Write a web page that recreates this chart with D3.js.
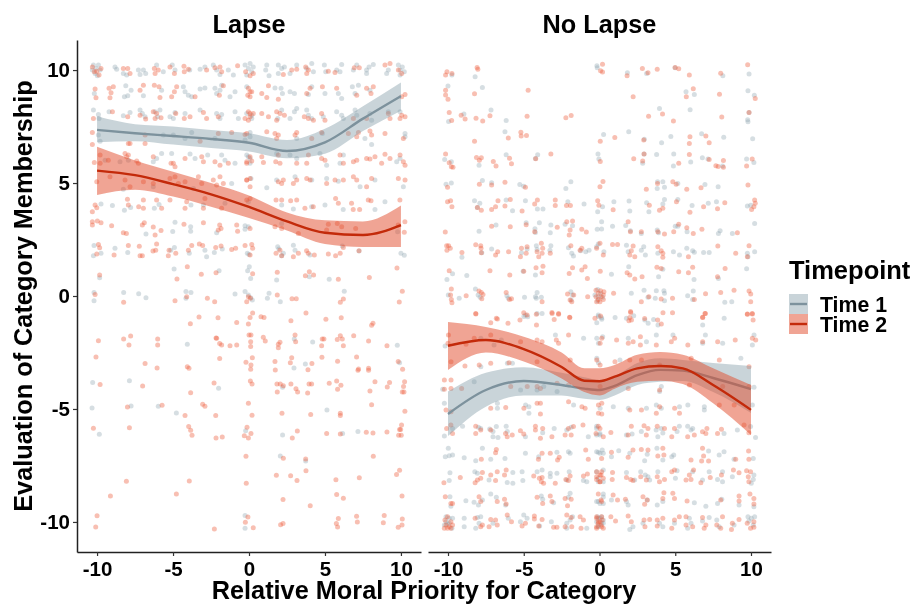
<!DOCTYPE html>
<html>
<head>
<meta charset="utf-8">
<script src="https://cdn.jsdelivr.net/npm/d3@7"></script>
<style>
  html, body { margin: 0; padding: 0; background: #fff; }
  svg { display: block; font-family: "Liberation Sans", Arial, sans-serif; font-weight: bold; filter: blur(0.3px); }
  .pts { filter: blur(0.45px); }
</style>
</head>
<body>
<div id="plot"></div>
<script>
const panels = ['Lapse', 'No Lapse'];
const seriesNames = ['Time 1', 'Time 2'];
const xTicks = [-10, -5, 0, 5, 10];
const yTicks = [-10, -5, 0, 5, 10];

// smooth lines
const lapseX = [-10, -7.5, -5, -2.5, 0, 2.5, 5, 7.5, 10];
const lapseT1 = [7.35, 7.2, 7.08, 6.95, 6.78, 6.42, 6.8, 7.85, 8.85];
const lapseT1Hi = [7.95, 7.6, 7.5, 7.35, 7.2, 6.9, 7.4, 8.4, 9.45];
const lapseT1Lo = [6.8, 6.85, 6.7, 6.55, 6.4, 6.1, 6.3, 7.3, 8.2];
const lapseT2 = [5.55, 5.35, 4.95, 4.5, 3.94, 3.3, 2.8, 2.7, 3.14];
const lapseT2Hi = [6.6, 6.0, 5.5, 5.0, 4.45, 3.7, 3.35, 3.3, 4.0];
const lapseT2Lo = [4.47, 4.7, 4.4, 3.95, 3.45, 2.9, 2.3, 2.17, 2.17];

const noLapseX = [-10, -7.5, -5, -2.5, -1, 0, 1, 2.5, 4, 5.5, 7.5, 10];
const noLapseT1 = [-5.22, -4.16, -3.76, -3.94, -4.1, -4.16, -3.98, -3.5, -3.27, -3.3, -3.63, -4.12];
const noLapseT1Hi = [-4.23, -3.4, -3.15, -3.4, -3.6, -3.72, -3.55, -2.97, -2.76, -2.83, -2.97, -3.1];
const noLapseT1Lo = [-6.2, -4.9, -4.4, -4.4, -4.55, -4.6, -4.4, -3.94, -3.8, -3.76, -4.25, -5.18];
const noLapseT2 = [-2.2, -1.95, -2.35, -3.14, -3.75, -3.77, -3.57, -3.2, -3.1, -3.2, -3.94, -5.04];
const noLapseT2Hi = [-1.15, -1.37, -1.8, -2.5, -3.2, -3.2, -3.05, -2.6, -2.48, -2.6, -3.2, -3.94];
const noLapseT2Lo = [-3.27, -2.5, -2.9, -3.65, -4.25, -4.4, -4.1, -3.8, -3.75, -3.9, -4.75, -6.15];

// jittered responses
const lapsePointsT1 = [
[-10.24,10.22],[-10.07,10.07],[-9.91,10.22],[-10.13,9.85],[-9.8,10],[-10.31,10],[-9.98,9.75],[-8.82,10.14],[-8.71,10.04],[-8.27,9.85],[-8.05,9.78],[-7.28,10],[-6.95,10],[-7.17,9.8],[-6.8,9.85],[-6.08,10.22],[-5.64,9.92],[-5.05,10.22],[-4.87,10],[-3.9,10],[-3.22,10.04],[-2.9,10.14],[-2.35,10.22],[-2.13,10],[-1.91,9.8],[-1.36,10],[-1.03,9.78],[-.26,10.22],[-.04,10.07],[.18,9.92],[-.15,9.78],[.07,10.29],[.28,10.14],
[1.17,10.22],[1.1,10],[1.32,9.75],[1.93,10.22],[2.15,10.07],[1.93,9.85],[2.33,10.14],[2.7,9.85],[3.14,10.22],[4.13,10.29],[3.8,10.07],[4.24,9.92],[4.96,10.22],[5.05,9.92],[6.1,10.25],[5.77,10],[5.99,9.92],[6.87,10],[7.09,10.22],[7.74,10],[8.18,10.25],[7.9,10.14],[7.74,9.85],[9.17,10],[9.06,9.85],[9.83,10.22],[10.09,10.14],[9.94,10],[10.22,9.92],[9.94,9.78],
[-10.18,8.96],[-8.11,9.3],[-7.76,9.11],[-8.2,8.82],[-7.98,8.86],[-6.95,8.86],[-5.75,9.11],[-4.32,9.26],[-4.21,9.04],[-3.99,8.89],[-3.77,8.82],[-3.22,9.16],[-2.9,9.21],[-2.24,9.19],[-1.91,9.11],[-2.13,8.96],[-1.8,9.33],[-1.25,8.82],[-.92,9.04],[-.15,9.26],
[1.71,9.21],[2.11,9.19],[2.2,8.96],[2.7,9.04],[2.99,8.96],[4.13,9.26],[3.91,8.92],[5,8.96],[5.88,8.96],[6.1,8.74],[6.8,9.26],[7.2,9.33],[6.98,8.96],[7.96,9.11],
[-10.24,8.23],[-9.91,8.03],[-9.87,7.86],[-9.21,8.15],[-8.27,7.98],[-7.83,8.12],[-7.17,8.23],[-7.02,8.08],[-6.84,7.93],[-6.18,8.15],[-5.86,8.23],[-6.01,7.93],[-5.2,7.93],[-4.87,8.12],[-4.98,7.86],[-4.21,8.08],[-3.22,8.23],[-2.13,8.08],[-1.91,7.86],[-1.8,8.03],[-.92,8.15],[-.7,7.86],[-.15,8.08],[.18,7.86],
[.18,8],[1.89,7.86],[2.15,8.23],[2.7,7.86],[2.99,8.15],[3.14,8.3],[3.8,8.23],[3.91,8],[4.13,7.86],[4.89,7.93],[5.77,8.15],[6.1,8],[6.21,7.86],[6.98,8.23],[7.09,8],[7.96,8.08],[8.07,7.78],[9.17,8.15],[9.94,8.15],
[-9.8,6.85],[-9.91,7.12],[-5.64,7.12],[-4.98,7.12],[-3.77,7.24],[-4.21,6.97],[-2.24,6.97],[.07,7.05],[-.26,6.9],[.07,7.24],[3.14,6.97],[4.83,7.19],[7.63,6.97],[8.07,6.71],[10.27,7.19],[10.27,7.05],
[-9.47,6.01],[-8.49,5.94],[-7.94,6.01],[-6.3,5.94],[-6.08,6.09],[-5.75,6.31],[-5.09,6.31],[-3.88,6.28],[-3.55,6.09],[-2.72,6.24],[-1.8,6.24],[-1.58,6.01],[-.92,5.87],[-.15,6.24],[.07,6.09],[-.04,6.16],[.07,5.87],[1.82,6.31],[2.7,6.24],[3.14,6.09],[4.67,6.31],[5.11,5.79],[6.21,6.24],[5.99,5.87],[9.94,6.09],[9.72,5.94],
[-8.27,4.73],[-6.3,4.83],[-3.66,4.76],[-1.14,4.98],[.13,5.2],[1.82,5.13],[3.03,5.28],[4.13,5.13],[5.11,5.2],[5.88,5.08],[7.31,4.83],[8.29,5.13],[10.16,4.83],[1.17,4.79],
[-9.74,4.07],[-8.99,4],[-8.2,3.8],[-7.79,3.92],[-6.23,3.88],[-5.92,4.05],[-3.82,4.03],[-3,4.03],[-1.58,4.1],[-.04,4.17],[2.15,4.03],[2.92,3.85],[4.12,3.95],[5,4.03],[6.2,3.83],[8.29,3.83],[8.95,4.17],
[-4.87,3.26],[-6.78,2.74],[-5.02,2.85],[-3.84,3.07],[-3.84,2.87],[-2.13,2.8],[-.26,3.11],[-.04,3.07],[-.26,2.95],[2.15,3.21],[9.78,2.84],
[-10.2,2.23],[-8.82,2.11],[-9.74,1.89],[-10.24,1.78],[-7.98,1.92],[-4.91,2.15],[-5.15,2.03],[-3.93,1.89],[-2.9,2.03],[-2.79,1.74],[-2.28,1.92],[-1.76,2.08],[-.11,1.89],[0,1.84],[1.89,2.18],[1.97,2.08],[2.26,1.89],[2.15,1.78],[2.92,2.25],[3.03,2.03],[4.01,1.81],[6.14,2.21],[7.24,1.99],[10,1.89],[10.22,1.8],
[-9.83,.81],[-4.93,1.19],[-1.97,1.12],[.02,1.3],[-.09,1.12],[.11,.78],[1.82,.71],[5.28,.74],[3.97,.85],
[-10.2,.16],[-10.2,-.21],[-8.25,.16],[-7.26,.1],[-6.78,-.08],[-4.15,.2],[-3.82,.16],[-4.15,-.1],[-.92,.09],[-.26,.2],[-.04,.04],[.11,-.08],[.22,-.18],[1.32,.12],[1.21,-.1],[2.06,-.25],[6.27,.21],
[-4.06,-2.13],[2.98,-1.9],[4.19,-2.04],[9.76,-2.18],[2.96,-3.19],[3.71,-3.01],[9.91,-2.95],
[-10.29,-3.83],[-7.87,-3.75],[-2,-4.08],[2.21,-4.04],[-10.33,-4.96],[-7.76,-4.87],[-5.97,-4.88],[-4.78,-5.18],[5.13,-5.04],
[-9.85,-6.12],[-.22,-5.96],[2.21,-6.15],[6.16,-6.09],[7.17,-6],[2.06,-7.08],[3.73,-7.3],[-.26,-9.72],[-.26,-10.28]
];
const lapsePointsT2 = [
[-10.31,10.14],[-9.87,9.78],[-10.18,9.92],[-9.74,10.07],[-10.02,9.95],[-8.27,10.07],[-7.98,10.07],[-7.83,9.85],[-6.23,10.07],[-5.97,10],[-6.18,9.85],[-5.2,10.14],[-4.91,9.85],[-4.28,10.17],[-3.99,10.04],[-4.26,9.92],[-2.79,10],[-2.24,10.1],[-1.91,10.14],[-1.8,9.92],[-.75,10.19],[-.22,9.92],[.07,9.75],[.28,9.85],
[2.26,9.8],[2.81,10],[3.14,10.04],[3.73,10.14],[3.91,10],[3.8,9.85],[5.22,9.95],[5.66,9.89],[7.26,10.1],[6.93,10.1],[8.95,10.22],[9.28,10.29],[10.05,9.85],[9.83,10],
[-10.13,9.16],[-9.21,9.19],[-8.93,9.26],[-9.08,9],[-9.15,8.77],[-10.07,8.77],[-6.95,9.33],[-7.17,9.11],[-6.23,9.33],[-5.92,9.26],[-5.86,8.79],[-4.76,9.26],[-4.91,9.04],[-5.09,8.82],[-3.55,8.82],[-1.69,9.3],[-1.95,8.89],[-.04,9.19],[.07,8.82],[.18,9.04],
[.84,8.96],[1.17,8.79],[1.28,9.3],[1.93,8.71],[3.8,8.96],[4.02,9.19],[4.83,9.26],[5.77,9.19],[7.09,8.89],[7.74,9.19],[8.18,9.26],[8.03,8.96],[10.27,8.92],[10.05,8.82],[.07,9.04],[-.08,8.89],
[-10.24,7.86],[-8.99,8.15],[-7.98,7.93],[-7.17,8],[-6.8,7.83],[-6.3,8.15],[-6.08,8.08],[-6.18,7.86],[-5.79,7.89],[-4.82,8.08],[-4.26,7.86],[-3.88,7.93],[-3,8.12],[-2.79,7.86],[-2.02,7.93],[-.04,8.15],[.07,7.93],[-.26,7.86],[.28,8.08],
[-.04,7.78],[.07,8.08],[.84,8.08],[1.28,7.93],[1.82,8.15],[2.04,8.08],[2.33,8],[1.82,7.78],[3.64,7.93],[3.91,7.86],[4.24,7.78],[4.78,8.08],[5,7.78],[6.87,7.86],[7.74,7.86],[9.17,8.08],[9.28,7.86],[9.94,7.86],[10.27,7.93],[10.05,8],
[-10.31,7.24],[-10.31,6.71],[-7.83,6.75],[-7.94,6.75],[-6.84,7.12],[-6.84,6.75],[-3.22,6.85],[-2.02,7.19],[-1.14,7.24],[-.26,7.15],[-.15,7.19],[1.17,7.27],[1.71,7.19],[1.93,7.12],[1.82,6.97],[3.14,7.24],[3.03,7.12],[4.13,6.97],[4.78,7.24],[6.54,7.19],[7.2,7.24],[7.96,7.3],[8.07,7.12],[8.95,7.19],[10.16,6.97],[7.09,7.05],
[-10.18,5.91],[-9.8,6.24],[-9.8,5.87],[-8.05,6.16],[-7.94,6.24],[-8.16,6.31],[-7.39,5.97],[-7.28,5.87],[-6.3,6.16],[-5.13,5.87],[-4.98,5.87],[-4.87,5.72],[-4.21,6.09],[-3.11,6.16],[-3,5.94],[-1.91,5.79],[-2.24,5.94],[-1.36,5.87],[-.15,5.87],[.18,5.97],[-9.26,6.01],
[-.15,5.94],[.07,6.16],[.84,6.16],[.95,5.91],[1.76,5.94],[2.04,5.87],[1.93,6.24],[3.14,5.87],[3.91,6.24],[3.8,5.87],[4.78,6.09],[5,6.01],[5.99,6.24],[6.21,5.87],[6.87,5.94],[7.09,6.01],[7.74,6.09],[7.96,6.06],[8.29,6.16],[8.95,6.27],[8.73,5.87],[9.28,6.09],[9.94,6.24],[10.16,5.94],[10.27,5.79],
[-10.02,5.06],[-8.16,5.13],[-7.83,4.83],[-9.15,5.28],[-6.95,5.06],[-6.3,4.98],[-5.2,5.2],[-4.87,5.28],[-4.65,4.98],[-4.21,5.06],[-3.33,5.28],[-3.11,4.98],[-2.35,5.13],[-1.91,5.28],[-2.13,4.91],[-1.69,4.98],[-.15,5.13],[.07,4.83],
[-.15,5.13],[.07,5.2],[1.93,5.06],[2.15,4.98],[2.26,5.13],[2.92,4.98],[3.14,5.13],[3.8,5.2],[4.02,5.13],[5.11,4.98],[5.66,5.13],[6.21,5.13],[6.87,5.28],[7.09,5.13],[8.07,5.2],[7.74,4.83],[9.83,5.2],[10.27,5.13],
[-10.13,4.03],[-10.31,3.73],[-10.02,3.91],[-8,4.28],[-7.94,4.03],[-7.26,3.95],[-6.95,4.25],[-6.95,3.88],[-6.08,4.25],[-5.75,3.88],[-5.2,4.25],[-4.21,3.88],[-4.1,4.17],[-3,3.88],[-2.9,4.32],[-1.8,3.88],[-.15,4.25],[.07,4.32],[1.78,4.25],[2.15,4.25],[2.74,4.22],[3.14,4.25],[3.68,3.88],[4.23,3.95],[5.7,4.32],[5.88,4.1],[6.86,3.83],[6.75,4.1],[7.28,3.83],[7.85,4.25],[8.03,4.22],[9.93,4.25],
[-10.31,3.29],[-10.31,3.14],[-9.98,3.32],[-9.74,3.24],[-9.04,3.11],[-8.27,2.8],[-8.07,2.77],[-7.02,3.14],[-6.89,3.24],[-6.3,3.05],[-6.18,2.7],[-5.79,2.9],[-4.28,3.18],[-3,3.24],[-1.93,3.14],[-1.84,2.99],[-2.02,2.92],[-.81,3.14],[-.75,2.87],[.07,2.99],[1.71,3.07],[2.15,2.99],[3.25,2.77],[5.22,3.17],[5.81,3.21],[6.1,3.07],[5.11,2.92],[7.02,2.99],[9.82,3.14],[10.26,3.29],[10.22,2.82],
[-9.91,2.28],[-9.83,2.14],[-10.02,1.86],[-8.88,1.81],[-7.94,2.23],[-7.22,2.2],[-7.17,1.78],[-7.02,1.78],[-6.08,2.3],[-6.14,2.03],[-6.32,1.99],[-5.26,2.03],[-5.31,1.78],[-4.82,1.89],[-3.99,2.03],[-3.77,2.23],[-3.27,2.3],[-3.05,2.23],[-2.19,2.15],[-1.84,2.21],[-1.14,2.06],[-.88,2.11],[-.26,2.23],[.18,2.28],[.24,2.11],[.07,1.81],[1.78,1.89],[2.04,2.03],[2.15,1.78],[2.92,1.74],[3.25,1.89],[3.79,2],[3.9,1.89],[4.3,1.81],[5.22,1.86],[5.7,1.78],[6,1.89],[6.21,2.15],[7.24,2],
[-9.83,.93],[-4.74,.75],[-4.06,1.3],[-3.14,.96],[-2.17,1.03],[.24,.99],[1.86,1.05],[3.71,.9],[3.97,1.07],[4.25,.93],[5.88,.74],[7.92,.82],[9.74,1.24],
[-10.13,.07],[-4.1,-.03],[-4.87,-.21],[-2.74,-.1],[-2.26,-.25],[-8.25,-.28],[-.04,-.03],[.09,-.1],[-.15,-.25],[1.86,.04],[2.83,-.12],[3.11,-.12],[6.21,-.13],[6.01,-.28],[10.09,.21],[9.89,-.27],
[-3.29,-.93],[-3.86,-1.23],[-2.04,-.96],[-.81,-1.17],[.24,-.75],[.07,-.95],[-.04,-1.24],[.79,-.92],[.99,-.95],[2.76,-1.09],[3.75,-.75],[5.06,-1.03],[6.07,-.96],[8.16,-1.21],[8.07,-1.3],
[-9.91,-1.98],[-8.25,-1.9],[-7.79,-1.77],[-7.9,-2.17],[-6.01,-1.9],[-6.01,-2.17],[-2.17,-1.86],[-2.13,-1.87],[-1.93,-2.1],[-1.8,-2.17],[-1.25,-2.2],[-.81,-2.17],[0,-1.73],[.13,-1.73],[.11,-2.02],[.11,-2.24],[.94,-1.83],[1.07,-1.99],[2.04,-2.05],[1.93,-2.14],[1.93,-2.29],[3.03,-1.73],[3.07,-2.02],[4.82,-1.9],[4.93,-1.9],[4.78,-2.2],[5.81,-1.92],[6.01,-1.76],[6.14,-1.9],[6.21,-2.2],[6.89,-1.76],[7.87,-1.99],[9.08,-2.2],
[-10.07,-2.7],[-6.84,-2.99],[-6.05,-3.19],[-4.06,-3.13],[-3.95,-3.2],[-1.93,-2.77],[-.2,-2.93],[.22,-2.73],[.13,-3.05],[.11,-3.24],[1.71,-2.9],[1.73,-3.27],[2.81,-2.73],[2.72,-2.95],[4.14,-2.99],[3.88,-3.26],[4.8,-2.71],[5.83,-2.89],[7.08,-2.7],[7.21,-3.23],[7.17,-3.29],[7.87,-3.2],[7.87,-3.29],[9.82,-2.9],[10.11,-3.24],
[-9.8,-3.92],[-7,-3.98],[-2.3,-3.85],[-3.84,-4.28],[.09,-3.76],[.2,-3.89],[1.84,-3.89],[2.06,-3.89],[2.76,-3.89],[2.26,-3.97],[1.86,-4.25],[3.09,-4.1],[3.2,-4.25],[3.95,-3.89],[4.12,-3.89],[3.86,-4.29],[5.28,-3.86],[5.77,-3.76],[6.05,-3.95],[5.83,-4.13],[8.29,-3.79],[7.96,-4.2],[9.25,-3.83],[9.1,-4.03],[10.24,-3.8],[10.17,-4.01],[10.09,-4.25],[10.2,-4.25],
[-8,-4.91],[-5.72,-4.84],[-4.21,-5.29],[-3.05,-4.79],[-2.9,-4.88],[-2.19,-5.29],[-.04,-4.75],[.2,-5.28],[2.17,-5.19],[4.06,-5.24],[6.01,-5.19],[6.01,-5.29],[8.07,-4.81],[10.26,-5.1],
[-10.24,-5.85],[-7.87,-5.83],[-3.97,-5.78],[-3.84,-5.94],[-3.75,-6.16],[-2.17,-6.28],[-1.76,-6.24],[-.13,-5.81],[-.31,-6.19],[-.04,-6.28],[.13,-6.08],[3.18,-5.97],[2.85,-6.28],[5.11,-6.08],[6.01,-6.11],[7.72,-6.03],[8.16,-6.06],[9.08,-6.02],[10.04,-5.71],[9.91,-5.91],[9.98,-5.91],[9.85,-6.16],[10.02,-6.16],
[-.2,-7.09],[2.26,-7.18],[3.73,-7.21],[8.18,-7.09],
[1.8,-7.93],[2.74,-7.95],[3.16,-8.17],[3.75,-7.73],[5.72,-8.13],[7.26,-8.04],[9.71,-7.9],[9.91,-7.71],[-8.07,-8.2],[-3.93,-8.19],[-.18,-8.29],
[-9.12,-8.85],[-4.78,-8.76],[2.24,-9.01],[4.03,-9.28],[5.77,-8.79],[6.21,-8.95],[10.07,-8.85],
[-10,-9.73],[-10.09,-10.22],[-2.28,-10.31],[-.07,-9.78],[-.24,-10.01],[.28,-10.26],[2.08,-10.12],[2.24,-10.07],[5.88,-9.85],[5.75,-10.07],[5.83,-10.22],[7.08,-9.75],[7.13,-10],[8.9,-9.72],[8.84,-10.03],[10.09,-9.87],[10.07,-10.13],[9.82,-10.23]
];
const noLapsePointsT1 = [
[-9.74,9.78],[-8.21,9.7],[-.17,10.19],[-.15,10.1],[1.84,9.88],[3.11,9.85],[4.99,10.1],[8.14,9.75],[9.87,9.82],
[-10,9.29],[-7.73,9.23],[5.71,9.04],[6.26,8.92],[9.8,9.08],[10.22,8.89],
[-9.96,7.72],[-8.95,8.06],[-7.16,8.23],[-6.16,7.77],[3.96,8.3],[5.98,8.24],[9.78,7.8],[9.8,7.71],[9.87,8.12],
[-6.24,7.27],[.27,7.15],[1.93,7.27],[2.96,6.94],[4.1,6.78],[4.71,7.06],[6.74,7.18],[8.2,7.03],[10.11,6.96],
[-10.22,6.04],[-9.78,5.94],[-7.95,5.79],[-6.16,6.25],[-4.08,6.25],[-4.23,6.09],[-.1,6.28],[-.04,6.06],[2.85,5.87],[2.94,6.28],[3.77,6.26],[4.9,6.29],[4.88,5.75],[6.02,5.93],[6.79,6.12],[7.16,6.06],[8.12,5.75],[9.71,6.06],[10.19,5.91],
[-10.13,4.95],[-9.78,5],[-7.73,5.11],[-7.12,5.01],[-5.26,4.94],[-5,4.86],[-2.22,4.76],[-1.89,5.06],[3.81,4.76],[4.18,5.06],[4.29,4.81],[5.17,4.98],[6.96,4.94],[7.83,4.84],[3.83,5.06],
[-8.25,4.22],[-7.9,4.1],[-8.06,3.92],[-6.16,4.25],[-5.74,3.77],[-4.89,4.22],[-4.1,3.85],[-3.73,3.85],[-2.09,4.17],[-1.02,4.07],[-.12,3.73],[.2,3.95],[.95,4.17],[1.95,4.2],[2,3.76],[3.11,4.13],[3.26,3.73],[4.29,4.27],[4.18,4.07],[5.17,4.27],[6.11,4],[7.18,4.1],[7.72,4.17],[9.76,3.98],[9.98,4.02],
[-7.95,2.87],[-6.83,3.14],[-4.84,3.24],[-4.26,2.98],[-4.23,2.81],[-3.97,3.24],[-3.21,3.14],[-3.25,2.8],[-2.27,3.18],[-1.78,3.11],[-.15,2.95],[.14,3.29],[.14,2.96],[.86,3.09],[1.73,3.12],[2.04,2.89],[2.76,2.77],[3.81,2.92],[3.9,2.8],[5,3.09],[5.17,3.09],[5.78,2.84],[7.96,2.89],[7.85,2.77],[8.77,2.77],[10.24,3.21],
[-9.08,1.72],[-7.77,1.91],[-7.12,2.08],[-5.15,1.91],[-4.78,2.08],[-4.17,2.22],[-4.12,2.06],[-3.21,2.22],[-3.27,2.03],[-2.05,2.14],[-1.83,1.89],[-1.72,1.77],[-1.24,2],[-.91,1.96],[-.69,2.03],[-.19,2.18],[-.08,2.3],[.29,1.96],[1.78,2.25],[1.89,1.96],[2.76,2.03],[2.92,2.18],[3.03,1.81],[3.85,1.89],[4.88,1.96],[5.28,1.81],[5.76,2.11],[6.15,2],[6.26,1.94],[6.87,1.93],[7.24,1.93],[9.76,1.89],[9.8,1.74],[10.24,1.96],
[-10.07,.73],[-9.7,.98],[-8.76,.91],[-5.04,1.1],[-4.23,.93],[.79,.96],[1.93,1.3],[3.9,.85],[4.18,1.18],[6.24,.73],[7.85,.78],[9.71,1.21],
[-.12,.29],[.07,.12],[-.3,.04],[-.08,-.03],[.2,-.06],[-.12,-.21],[-9.98,.04],[-8.19,.31],[-8.01,.04],[-7.88,-.06],[-9.26,-.1],[-6.11,.01],[-6.02,-.1],[-4.95,-.06],[-4.23,-.03],[-4.12,.16],[-3.84,-.06],[-4.17,-.1],[-1.89,.19],[-1.78,.04],[-1.87,-.18],[2.1,.12],[2.94,.26],[3.2,-.06],[3.75,.23],[4.25,.23],[4.29,.12],[3.68,-.1],[4.29,-.21],[5.82,.01],[6.19,.22],[6.15,-.15],[8.27,-.28],[8.73,-.25],
[-4.89,-.84],[-4.74,-.92],[-.08,-.84],[.14,-.96],[1.03,-.95],[2.26,-.87],[1.78,-.99],[3.57,-1.04],[8.23,-.99],
[-4.99,-.91],[-4.12,-.77],[-3.79,-.77],[-.07,-.91],[.15,-1.03],[-.18,-1.18],[2.99,-1.06],[3.21,-1.21],[3.86,-1.28],[6.81,-1.28],
[-10.19,-2.21],[-7.83,-1.87],[-6.96,-2.17],[-6.48,-1.95],[-2.91,-1.73],[-1.05,-1.87],[-.18,-1.87],[.21,-1.8],[-.07,-2.09],[1.9,-1.87],[3.1,-2.02],[3.75,-1.73],[4.85,-1.73],[6.99,-1.73],[6.81,-2.09],[8.13,-2.09],[10.2,-1.73],[10.09,-2.17],
[-7.83,-3.13],[-6.08,-2.98],[-5.75,-2.98],[-.18,-2.76],[-.07,-2.95],[1.35,-2.83],[9.33,-2.76],
[-10.35,-4.13],[-8.27,-3.79],[-5.21,-4.16],[-4.12,-4.16],[-3.68,-4.01],[-2.8,-4.23],[4.08,-4.01],[3.97,-4.23],[10.2,-4.04],
[-10.24,-4.75],[-6.74,-4.75],[-6.74,-4.97],[-4.88,-4.82],[-4.66,-4.9],[-4.66,-5.19],[-1.71,-4.82],[.04,-4.97],[.91,-4.9],[1.9,-4.97],[3.1,-4.97],[3.75,-4.82],[4.08,-4.97],[5.28,-4.9],[5.83,-4.82],[6.92,-4.9],[6.92,-5.05],[10.09,-4.82],
[-10.24,-6.2],[-9.7,-5.86],[-9.04,-5.76],[-7.99,-5.81],[-7.84,-5.86],[-7.25,-5.89],[-7.03,-6],[-7.03,-6.23],[-6.81,-5.78],[-6.7,-6.26],[-6.16,-5.76],[-6.09,-6],[-4.89,-6.23],[-3.75,-6.05],[-2.99,-5.86],[-2.16,-5.93],[-1.87,-5.81],[-.74,-6.23],[-.19,-5.76],[.03,-6.15],
[-.19,-5.86],[.03,-6.08],[-.19,-6.15],[1.78,-6.15],[2.15,-6.11],[2.76,-6],[3.74,-5.93],[4.07,-5.86],[3.85,-6.23],[4.18,-6.06],[5.27,-5.76],[5.12,-6],[5.82,-5.76],[6.04,-5.93],[6.15,-5.86],[8.22,-6.08],[9.1,-5.93],[9.97,-5.78],[10.3,-6.26],
[-9.98,-6.74],[-10.18,-7.11],[-9.92,-7.07],[-9.7,-7.04],[-8.93,-7.16],[-8.17,-7.29],[-7.73,-6.74],[-7.18,-7.22],[-6.24,-7.19],[-4.89,-6.96],[-4.01,-7.11],[-2.81,-6.92],[-2.05,-6.89],[-1.94,-6.96],[-.08,-6.92],[.25,-6.96],
[-.19,-6.89],[.03,-6.96],[.18,-6.82],[.79,-7.11],[1.27,-6.85],[2,-6.96],[3.15,-7],[2.98,-7.29],[3.79,-6.74],[4.77,-7.11],[4.9,-7.04],[4.18,-7.26],[7.2,-6.86],[7.9,-7.04],[8.22,-6.89],[8.88,-7.23],[10.15,-7.19],
[-9.87,-7.82],[-9.92,-8.17],[-8.23,-7.78],[-8.06,-7.85],[-7.29,-8.14],[-6.09,-8.25],[-5.72,-8.29],[-5.72,-7.81],[-5.11,-7.78],[-5.06,-8.17],[-4.12,-7.78],[-3.79,-7.7],[-3.25,-7.85],[-3.25,-8],[-2.81,-7.85],[-2,-7.78],[-2.16,-8.14],[-1.06,-8.17],[-.84,-8.22],[-.19,-7.78],[.25,-7.7],[-.08,-8.22],
[-.08,-8.07],[.25,-8.22],[1.78,-7.81],[2.32,-8.14],[2.72,-7.78],[3.02,-7.92],[3.2,-8],[3.31,-8.14],[3.85,-7.78],[5.01,-8.07],[5.12,-7.73],[6.15,-7.78],[6.8,-8.14],[7.24,-7.78],[7.79,-8.12],[8.12,-7.78],[8.12,-8.22],[8.77,-8],[10.19,-7.92],[10.15,-8.12],[10.02,-8.29],
[-9.87,-8.88],[-9.81,-9.3],[-8.82,-9.06],[-8.28,-9.13],[-7.99,-9.25],[-7.73,-9.03],[-7.18,-8.76],[-6.81,-8.91],[-6.2,-9.25],[-3.84,-8.85],[-3.75,-9],[-3.03,-9.15],[-1.94,-8.73],[-2.05,-8.91],[-.08,-9.1],[.25,-9.18],
[-.19,-9.1],[.25,-8.76],[.25,-8.9],[.03,-9.18],[.79,-9.03],[1.78,-9.1],[1.89,-9.25],[3.15,-9.03],[3.81,-9.25],[4.18,-9.1],[6.26,-9.15],[7.02,-9.3],[7.79,-9.18],[8.07,-9],[9.21,-9.25],[10.19,-9.33],
[-10.13,-9.77],[-9.92,-9.84],[-10.13,-9.99],[-9.92,-10.06],[-9.7,-9.84],[-10.24,-10.14],[-10.03,-10.09],[-9.74,-10.28],[-8.93,-9.84],[-8.93,-10.21],[-8.06,-9.8],[-7.84,-9.77],[-8.17,-10.28],[-7.95,-10.06],[-7.03,-10.06],[-6.02,-9.84],[-5,-9.69],[-4.78,-9.84],[-5.22,-9.99],[-3.95,-10.18],[-3.18,-9.99],[-2.16,-10.06],[-1.94,-9.91],[-1.78,-9.77],[-2.16,-10.28],[-.84,-10.28],[-.08,-9.84],[.14,-9.77],[-.08,-10.18],[.25,-10.06],
[-.13,-9.77],[.03,-9.84],[.25,-9.91],[-.19,-9.99],[.14,-10.06],[-.08,-10.21],[2.21,-10.21],[2,-10.33],[2.87,-10.06],[3.96,-10.06],[4.18,-10.21],[4.95,-10.06],[5.93,-9.84],[6.04,-10.06],[5.82,-10.28],[7.24,-9.8],[6.8,-9.96],[7.74,-9.91],[7.9,-10.21],[8.88,-10.14],[9.8,-9.77],[10.02,-9.84],[10.24,-9.77],[9.86,-9.96],[10.15,-10.14]
];
const noLapsePointsT2 = [
[-10.16,9.78],[-10.07,9.92],[-9.74,9.85],[-8.08,10.11],[-8.03,10.04],[.2,10.26],[.07,9.97],[.2,9.91],[1.82,9.75],[2.83,10.07],[3.2,9.88],[3.81,10.03],[4.99,10.11],[5.23,10.06],[5.93,9.78],[8,9.86],[9.78,10.23],
[-10.16,9.11],[-10.16,8.9],[-10,8.71],[-8.25,8.95],[-4.71,9.11],[2.22,8.82],[6.19,9.17],[5.73,8.82],[7.92,8.93],[10.28,8.74],
[-9.92,8.12],[-9.76,7.77],[-9.13,8],[-8.87,7.83],[-8.15,7.87],[-7.71,7.75],[-7.23,7.98],[-4.78,7.95],[-2.22,7.89],[-1.87,7.99],[3.24,7.96],[4.16,8.05],[4.88,7.74],[8.07,7.92],[9.87,8.12],
[-8.25,6.85],[-6.02,6.99],[-5.19,7.25],[-5.17,7.08],[-4.82,7.1],[.05,6.85],[1.01,7.02],[2.92,6.9],[5.97,7.05],[5.93,6.75],[7.02,7.08],[7.24,6.78],
[-10.16,6.28],[-9.92,5.9],[-9.78,5.72],[-9.67,5.7],[-8.12,6.13],[-7.8,6.12],[-7.93,6.01],[-7.01,5.95],[-6.83,5.75],[-5.94,6.1],[-5.81,5.85],[-4.21,6.07],[-3.21,6.28],[.05,5.95],[2.26,6.07],[2.85,5.97],[2.94,6.28],[5.23,5.87],[5.93,6.26],[7.24,6.04],[8.18,6],[7.68,5.76],[7.83,5.73],[8.18,5.7],[10.08,6.06],[9.71,5.75],
[-10.03,4.81],[-7.93,4.95],[-7.12,4.91],[-6.24,5.03],[-4.89,4.81],[.03,4.84],[.23,5.07],[3.09,4.72],[3.83,4.98],[4.84,5.06],[5.06,4.95],[5.76,4.72],[6.7,4.79],[9.8,4.91],
[-10.03,4.17],[-9.83,4.22],[-9.74,3.95],[-8.06,3.92],[-7.8,3.8],[-7.12,3.83],[-6.86,3.95],[-6.7,4.22],[-6.24,3.98],[-5.89,4.27],[-5.11,3.76],[-4.28,4.07],[-4.1,4.25],[-2.92,4.25],[-2.92,4.01],[-2.18,4.01],[-1.92,4],[-.12,4.22],[-.04,4.02],[.9,3.82],[3.29,4.02],[3.96,3.8],[4.18,3.88],[5.08,4.17],[5.97,3.71],[6.87,3.95],[7.79,3.86],[8.27,4.13],[10.24,4.25],[10.19,3.95],[10.04,3.83],[10.28,4.1],
[-10.18,2.83],[-7.12,3.09],[-5.89,3.07],[-4.84,3.15],[-4.28,2.84],[-2.79,3.04],[-2.16,3.29],[-1.78,3.32],[-1.94,2.92],[-2,2.7],[-1.17,2.95],[-.87,2.83],[1.89,3.29],[2.04,2.84],[2.76,2.84],[3.85,2.84],[4.29,2.74],[4.9,2.84],[5.23,3.18],[5.76,3.02],[6.19,2.77],[6.76,2.95],[9.1,2.8],
[-10.09,2.22],[-9.96,2.22],[-10.07,2.03],[-9.85,2.11],[-9.08,1.93],[-8.17,2.27],[-7.84,2.22],[-7.82,2.11],[-7.8,1.91],[-6.72,1.96],[-6.86,1.81],[-6,1.96],[-5.15,2.11],[-5.22,1.74],[-4.78,2.18],[-4.84,1.89],[-4.12,1.96],[-3.84,2.33],[-3.75,2.11],[-3.79,1.89],[-4.01,1.74],[-3.25,1.89],[-1.89,2.22],[-1.28,2.03],[-1.17,2.11],[-.19,2.11],[.03,2.33],[.25,1.81],[.86,2.28],[1.19,2.28],[2.1,2],[2,1.81],[2.22,2.21],[2.33,1.74],[3.85,2.18],[4.07,2],[4.18,1.89],[4.18,1.71],[5.87,1.74],[7.81,2.21],[8.99,1.89],[9.87,2.22],[9.76,1.74],
[-9.92,1.12],[-7.23,1.12],[-5.92,.93],[-5,1.1],[-4.19,1.25],[-3.73,1.32],[-3.79,1.03],[-1.78,1.25],[-2,1],[-1.17,1.15],[-.95,1.3],[-.8,.78],[.05,1.1],[1.82,1.03],[2,.93],[2.33,.75],[2.81,.85],[3.79,1.27],[4.07,1.22],[5.23,1.07],[5.87,1.03],[6.15,1.27],[8.29,1.22],[7.79,.85],
[-.23,.26],[-.08,.12],[.07,.23],[.25,.04],[-.23,-.03],[-.08,-.15],[.1,-.03],[.25,-.15],[.03,-.25],[.29,.19],[-.19,-.25],
[-9.78,.31],[-9.83,.04],[-9.78,-.15],[-9.74,-.3],[-8.8,.01],[-7.95,.22],[-7.8,.16],[-7.69,.07],[-7.77,-.12],[-6.16,.16],[-5.94,-.15],[-5.81,-.12],[-3.79,-.25],[-2.11,.09],[-1.7,.04],[-1.94,-.18],[-1.83,-.25],[-.78,-.03],[.93,.12],[2.76,-.25],[3.26,-.03],[4.07,-.13],[4.82,-.1],[6.26,-.15],[7,.1],[8,.16],[8.88,.26],[9.87,.22],[9.98,.09],[9.98,-.25],
[-8.17,-.77],[-6.81,-.99],[-5,-.74],[-4.78,-.84],[-4.17,-.81],[-3.14,-.73],[-2.99,-1.04],[-2.7,-.81],[-1.96,-.95],[-.3,-.99],[.07,-.89],[2.06,-.73],[2.98,-1],[2,-.95],[4.82,-.74],[6.96,-.77],[6.81,-.95],[9.76,-.81],[10.08,-.77],
[-8.16,-.8],[-7.18,-1.18],[-6.74,-1.02],[-6.04,-1.21],[-5.25,-1.06],[-4.16,-1.28],[-3.13,-.77],[-2.7,-.77],[-1.97,-.94],[2.05,-.69],[1.94,-1.09],[2.11,-1.06],[3.84,-1.06],[4.19,-.74],[4.08,-1.24],[6.99,-.77],[6.81,-.94],[9.76,-.8],[10.09,-.8],[10.14,-1.06],
[-9.97,-1.73],[-10,-2.09],[-8.81,-2.14],[-8.27,-1.87],[-7.18,-1.73],[-5.21,-2.02],[-4.12,-1.95],[-3.79,-2.02],[-2.85,-1.95],[-2.7,-2.09],[-2.04,-1.73],[.04,-2.09],[.15,-1.87],[1.13,-1.95],[1.9,-2.09],[2.22,-2.02],[2.7,-1.8],[2.7,-2.17],[3.75,-2.17],[4.74,-2.02],[4.96,-1.87],[5.83,-2.17],[6.81,-2.02],[7.8,-2.02],[8.96,-1.95],[10.09,-1.87],[10.31,-1.95],
[-9.8,-2.91],[-8.88,-3.1],[-7.94,-3.05],[-7.18,-2.98],[-5.97,-2.95],[-4.12,-2.91],[-1.93,-2.83],[-.18,-2.83],[.04,-3.05],[1.02,-2.91],[2,-2.83],[2.77,-2.83],[3.97,-3.05],[6.05,-2.76],[7.91,-2.83],[9.87,-3.13],
[-10.24,-3.72],[-9.8,-3.72],[-10.24,-4.13],[-9.8,-4.09],[-9.1,-4.09],[-5.86,-4.01],[-4.77,-4.01],[-4.12,-4.01],[-3.9,-4.09],[-2.8,-3.86],[-2.04,-3.94],[.04,-4.01],[1.9,-4.09],[3.97,-4.16],[5.94,-3.94],[8.13,-4.01],[9.87,-4.01],
[-10.13,-5.04],[-9.8,-5.12],[-7.18,-4.97],[-6.19,-4.93],[-4.99,-4.97],[-4.12,-4.75],[-3.9,-4.75],[-3.9,-5.22],[-2.04,-4.68],[-1.16,-4.9],[-.95,-4.97],[-.07,-4.82],[.15,-4.75],[-.07,-5.19],[.15,-5.22],[2,-5.05],[2.77,-5.05],[3.97,-4.9],[3.75,-5.19],[4.96,-4.97],[5.28,-5.19],[7.91,-4.82],[8.89,-4.82],
[-10.09,-5.86],[-9.81,-5.71],[-9.7,-6.08],[-8.17,-5.76],[-8.17,-6.08],[-7.84,-5.93],[-7.18,-5.93],[-6.2,-6.08],[-6.09,-6.23],[-5.76,-6.15],[-5.22,-5.96],[-5,-6.11],[-4.23,-5.76],[-4.23,-5.93],[-3.9,-6.3],[-3.75,-5.86],[-3.14,-6.23],[-2.27,-6.15],[-2.05,-5.86],[-1.72,-5.78],[-1.87,-6.15],[-1.09,-5.71],[-.23,-6.08],[.03,-5.86],
[-.08,-5.76],[.25,-6.23],[.75,-6.04],[2.1,-5.76],[1.89,-6.15],[2.94,-5.74],[3.2,-5.86],[3.09,-6.15],[3.81,-5.76],[4.29,-5.86],[4.95,-5.86],[4.77,-6.23],[5.82,-6.23],[6.26,-6.15],[6.8,-6.01],[7.09,-5.86],[7.02,-6.08],[7.79,-6.08],[8.05,-5.9],[9.86,-6.05],[9.54,-5.71],
[-7.8,-7.22],[-6.81,-6.79],[-6.86,-6.94],[-4.03,-7.22],[-3.79,-6.96],[-3.25,-6.96],[-2.77,-7.26],[-2.66,-7.14],[-.91,-6.82],[-.74,-7.22],[.14,-7.19],
[.79,-6.92],[2.21,-6.82],[1.89,-7.14],[2.76,-6.79],[3.2,-6.82],[3.85,-7.08],[4.18,-6.74],[4.25,-7.04],[6.04,-7.26],[6.8,-6.74],[6.74,-7.3],[7.2,-7.3],[6.87,-7.08],[8.99,-7.23],[9.84,-6.86],[9.86,-7.23],
[-10.27,-8.26],[-9.19,-8.03],[-7.73,-7.81],[-7.84,-8.07],[-8.06,-8.14],[-8.21,-8.26],[-7.18,-7.92],[-6.75,-7.78],[-6.86,-8.17],[-6.16,-7.7],[-6.27,-7.92],[-4.34,-7.97],[-3.97,-8.07],[-3.79,-8.03],[-3.84,-8.22],[-3.69,-8.29],[-2.92,-8.29],[-2.22,-8.12],[-1.94,-7.97],[-2.05,-8.17],[-1.06,-7.97],[-.8,-7.88],[-.19,-8],[.1,-7.92],[.03,-8.22],[.25,-8.07],
[-.19,-7.78],[.03,-7.92],[.14,-7.78],[-.19,-8.12],[.03,-8.22],[.86,-7.81],[.84,-8.12],[1.78,-8.03],[2.06,-8.12],[2.21,-8.17],[2.72,-8],[3.09,-8.14],[3.81,-8],[3.96,-8.22],[4.29,-8.12],[4.77,-7.78],[4.95,-7.7],[5.71,-8.14],[5.93,-7.92],[6.21,-7.7],[6.04,-8.12],[6.69,-8.26],[7.31,-8.03],[8.05,-7.92],[8.84,-7.7],[9.21,-7.82],[9.71,-7.73],[9.97,-7.78],[9.82,-8],[9.86,-8.22],
[-10.18,-8.88],[-9.81,-9.18],[-9.7,-9.18],[-7.95,-8.88],[-7.84,-9.1],[-6.75,-9.1],[-6.27,-9],[-6.16,-9.21],[-4.12,-8.91],[-3.75,-9.18],[-3.25,-8.85],[-3.14,-9.1],[-2.27,-8.96],[-1.87,-8.99],[-2.11,-9.28],[-.08,-8.76],[.1,-9.03],
[.14,-9.1],[.9,-8.81],[1.19,-9.03],[1.71,-9],[2.87,-8.88],[3.15,-9.03],[2.98,-9.22],[4.25,-8.71],[4.18,-8.96],[4.84,-8.73],[4.95,-8.96],[5.78,-9.07],[8,-9.03],[9.21,-8.85],[9.21,-9.07],[9.93,-8.76],[10.19,-8.96],[10.19,-9.21],
[-10.2,-9.91],[-10.03,-9.77],[-9.81,-9.99],[-10.13,-10.14],[-9.92,-10.21],[-9.7,-10.14],[-10.03,-10.28],[-9.81,-10.28],[-10.24,-10.28],[-8.21,-9.84],[-7.84,-10.21],[-7.73,-10.14],[-7.29,-10.21],[-7.18,-9.89],[-6.86,-9.91],[-6.75,-10.14],[-6.09,-9.69],[-5.81,-9.99],[-5.11,-10.18],[-4.89,-10.06],[-4.3,-9.74],[-4.3,-9.87],[-3.79,-9.89],[-4.01,-10.18],[-3.03,-10.24],[-2.81,-10.24],[-2.27,-10.21],[-2.16,-9.69],[-1.83,-10.21],[-1.87,-9.8],[-1.28,-9.77],[-1.06,-9.91],[-1.22,-10.28],[-.19,-10.21],[-.08,-9.99],[.1,-10.14],[.25,-10.28],[-.19,-9.77],[.18,-9.91],
[-.19,-9.84],[.14,-9.77],[-.08,-10.06],[.14,-10.21],[-.19,-10.28],[.03,-9.99],[.75,-9.77],[1.06,-9.96],[1.89,-9.74],[2.1,-9.99],[2.94,-9.91],[3.31,-9.89],[3,-10.21],[3.81,-9.91],[4.18,-9.84],[3.81,-10.18],[4.77,-10.28],[4.95,-9.91],[5.27,-9.77],[5.71,-9.77],[6.15,-10.21],[5.71,-10.14],[6.8,-9.8],[7.02,-10.14],[6.91,-10.28],[7.74,-10.14],[8.12,-9.77],[8,-10.28],[8.77,-10.06],[8.71,-10.33],[9.21,-9.89],[9.75,-10.06],[10.19,-9.99],[9.97,-10.28],[10.19,-10.24]
];

const width = 912, height = 604;
const xDomain = [-11.32, 11.32], yDomain = [-11.33, 11.33];
const plotTop = 40, plotBottom = 552;

const colorLine = { 'Time 1': '#7d929d', 'Time 2': '#c32a0a' };
const colorFill = { 'Time 1': '#7f99a5', 'Time 2': '#e2492a' };
const colorPoint = { 'Time 1': '#8ea4b0', 'Time 2': '#ee5f3f' };

const panelData = [
  { name: panels[0], range: [77, 421], xs: lapseX, pts: [lapsePointsT1, lapsePointsT2],
    lines: [[lapseT1, lapseT1Lo, lapseT1Hi], [lapseT2, lapseT2Lo, lapseT2Hi]] },
  { name: panels[1], range: [428, 771], xs: noLapseX, pts: [noLapsePointsT1, noLapsePointsT2],
    lines: [[noLapseT1, noLapseT1Lo, noLapseT1Hi], [noLapseT2, noLapseT2Lo, noLapseT2Hi]] }
];

const svg = d3.select('#plot').append('svg')
  .attr('width', width).attr('height', height);

const y = d3.scaleLinear().domain(yDomain).range([plotBottom, plotTop]);

panelData.forEach(p => {
  const x = d3.scaleLinear().domain(xDomain).range(p.range);
  const g = svg.append('g');

  // points first, ribbons and lines go on top
  seriesNames.forEach((s, si) => {
    g.append('g').attr('class', 'pts').selectAll('circle')
      .data(p.pts[si])
      .enter().append('circle')
      .attr('cx', d => x(d[0]))
      .attr('cy', d => y(d[1]))
      .attr('r', 2.5)
      .attr('fill', colorPoint[s])
      .attr('opacity', si === 0 ? 0.36 : 0.4);
  });

  seriesNames.forEach((s, si) => {
    const [mean, lo, hi] = p.lines[si];
    const idx = p.xs.map((_, i) => i);
    const band = d3.area()
      .x(i => x(p.xs[i]))
      .y0(i => y(lo[i]))
      .y1(i => y(hi[i]))
      .curve(d3.curveMonotoneX);
    const line = d3.line()
      .x(i => x(p.xs[i]))
      .y(i => y(mean[i]))
      .curve(d3.curveMonotoneX);
    g.append('path').attr('d', band(idx))
      .attr('fill', colorFill[s]).attr('opacity', si === 0 ? 0.42 : 0.5);
    g.append('path').attr('d', line(idx))
      .attr('fill', 'none').attr('stroke', colorLine[s]).attr('stroke-width', 2.4);
  });

  const xAxis = d3.axisBottom(x).tickValues(xTicks).tickSize(4).tickSizeOuter(0).tickFormat(d3.format('d'));
  const gx = svg.append('g').attr('transform', `translate(0,${plotBottom})`).call(xAxis);
  gx.select('.domain').attr('stroke', '#222').attr('stroke-width', 1.5);
  gx.selectAll('.tick line').attr('stroke', '#333').attr('stroke-width', 1.2);
  gx.selectAll('.tick text').attr('fill', '#000').attr('font-size', 20.5).attr('font-weight', 'bold')
    .attr('font-family', '"Liberation Sans", Arial, sans-serif').attr('dy', '0.82em')
    .text(d => d < 0 ? '-' + Math.abs(d) : d);

  svg.append('text')
    .attr('x', (p.range[0] + p.range[1]) / 2)
    .attr('y', 33)
    .attr('text-anchor', 'middle')
    .attr('font-size', 25.3)
    .text(p.name);
});

const yAxis = d3.axisLeft(y).tickValues(yTicks).tickSize(4).tickSizeOuter(0).tickFormat(d3.format('d'));
const gy = svg.append('g').attr('transform', 'translate(77,0)').call(yAxis);
gy.select('.domain').attr('stroke', '#222').attr('stroke-width', 1.5);
gy.selectAll('.tick line').attr('stroke', '#333').attr('stroke-width', 1.2);
gy.selectAll('.tick text').attr('fill', '#000').attr('font-size', 20.5).attr('font-weight', 'bold')
  .attr('font-family', '"Liberation Sans", Arial, sans-serif')
  .text(d => d < 0 ? '-' + Math.abs(d) : d);

svg.append('text').attr('x', 424).attr('y', 599).attr('text-anchor', 'middle')
  .attr('font-size', 25.3).text('Relative Moral Priority for Category');
svg.append('text').attr('transform', 'translate(32,296) rotate(-90)').attr('text-anchor', 'middle')
  .attr('font-size', 25.3).text('Evaluation of Category Membership');

// legend
svg.append('text').attr('x', 789).attr('y', 279).attr('font-size', 25.5).text('Timepoint');
seriesNames.forEach((s, i) => {
  const ky = 294 + i * 20;
  const key = svg.append('g');
  key.append('rect').attr('x', 789).attr('y', ky).attr('width', 19).attr('height', 20)
    .attr('fill', colorFill[s]).attr('opacity', i === 0 ? 0.42 : 0.5);
  key.append('line').attr('x1', 790).attr('x2', 807).attr('y1', ky + 10).attr('y2', ky + 10)
    .attr('stroke', colorLine[s]).attr('stroke-width', 2.4);
  svg.append('text').attr('x', 820).attr('y', ky + 18).attr('font-size', 21.3).text(s);
});
</script>
</body>
</html>
